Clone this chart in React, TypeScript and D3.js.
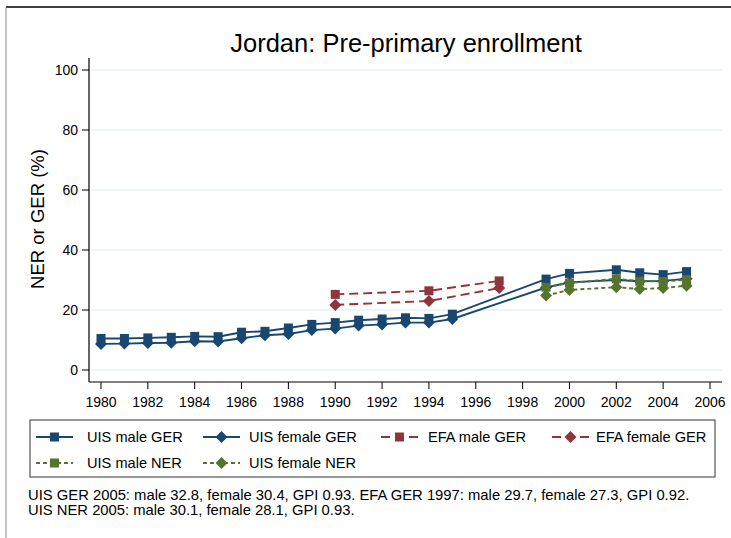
import React from 'react';
import * as d3 from 'd3';

// ---- data ----
const uisYears = [1980, 1981, 1982, 1983, 1984, 1985, 1986, 1987, 1988, 1989, 1990, 1991, 1992, 1993, 1994, 1995, 1999, 2000, 2002, 2003, 2004, 2005];
const uisMaleGER = [10.5, 10.5, 10.7, 10.9, 11.2, 11.1, 12.6, 12.9, 14.0, 15.2, 15.8, 16.6, 17.0, 17.4, 17.2, 18.6, 30.3, 32.2, 33.4, 32.4, 31.8, 32.8];
const uisFemaleGER = [8.7, 8.8, 9.0, 9.1, 9.6, 9.5, 10.6, 11.6, 12.0, 13.3, 13.8, 14.8, 15.2, 15.8, 15.8, 17.0, 27.5, 29.2, 30.0, 29.6, 29.7, 30.4];
const efaYears = [1990, 1994, 1997];
const efaMaleGER = [25.2, 26.4, 29.7];
const efaFemaleGER = [21.7, 23.0, 27.3];
const nerYears = [1999, 2000, 2002, 2003, 2004, 2005];
const uisMaleNER = [27.6, 29.0, 30.4, 29.6, 29.5, 30.1];
const uisFemaleNER = [24.8, 26.7, 27.6, 27.0, 27.3, 28.1];

const xTicks = d3.range(1980, 2007, 2);
const yTicks = [0, 20, 40, 60, 80, 100];

const navy = '#1a476f';
const maroon = '#90353b';
const green = '#55752f';

type Series = {
  label: string;
  years: number[];
  values: number[];
  color: string;
  dash: string | null;
  marker: 'square' | 'diamond';
};

const series: Series[] = [
  { label: 'UIS male GER', years: uisYears, values: uisMaleGER, color: navy, dash: null, marker: 'square' },
  { label: 'UIS female GER', years: uisYears, values: uisFemaleGER, color: navy, dash: null, marker: 'diamond' },
  { label: 'EFA male GER', years: efaYears, values: efaMaleGER, color: maroon, dash: '9 5', marker: 'square' },
  { label: 'EFA female GER', years: efaYears, values: efaFemaleGER, color: maroon, dash: '9 5', marker: 'diamond' },
  { label: 'UIS male NER', years: nerYears, values: uisMaleNER, color: green, dash: '4 3', marker: 'square' },
  { label: 'UIS female NER', years: nerYears, values: uisFemaleNER, color: green, dash: '4 3', marker: 'diamond' },
];

const notes = [
  'UIS GER 2005: male 32.8, female 30.4, GPI 0.93. EFA GER 1997: male 29.7, female 27.3, GPI 0.92.',
  'UIS NER 2005: male 30.1, female 28.1, GPI 0.93.',
];

const W = 731;
const H = 538;
const font = 'Arial, "Liberation Sans", Helvetica, sans-serif';

const Marker: React.FC<{ kind: 'square' | 'diamond'; cx: number; cy: number; color: string }> = ({ kind, cx, cy, color }) => {
  if (kind === 'square') {
    return <rect x={cx - 4.5} y={cy - 4.5} width={9} height={9} fill={color} />;
  }
  const r = 6;
  return <path d={`M${cx},${cy - r}L${cx + r},${cy}L${cx},${cy + r}L${cx - r},${cy}Z`} fill={color} />;
};

export default function App() {
  /* ---------- scales ---------- */
  const x = d3.scaleLinear().domain([1980, 2006]).range([101, 710]);
  const y = d3.scaleLinear().domain([0, 100]).range([370, 70]);
  const plot = { left: 89, right: 722, top: 58, bottom: 382 };

  const line = d3
    .line<[number, number]>()
    .x(d => x(d[0]))
    .y(d => y(d[1]));

  /* ---------- legend layout ---------- */
  const legendCols = [36, 203, 381, 552];
  const legendText = [87, 249, 428, 596];
  const legendRows = [437, 463];
  const keyLen = 37;

  return (
    <svg width={W} height={H} style={{ display: 'block', position: 'absolute', left: 0, top: 0, background: '#fff' }} fontFamily={font}>
      {/* outer frame */}
      <line x1={6} x2={W} y1={7} y2={7} stroke="#000" strokeWidth={1.5} />
      <line x1={6} x2={6} y1={7} y2={H} stroke="#888" strokeWidth={1} />

      {/* title */}
      <text x={406} y={52} textAnchor="middle" fontSize={25.5} fill="#000">
        Jordan: Pre-primary enrollment
      </text>

      {/* gridlines */}
      {yTicks.map(t => (
        <line key={`g${t}`} x1={plot.left} x2={plot.right} y1={y(t)} y2={y(t)} stroke="#eaf2f3" strokeWidth={1.5} />
      ))}

      {/* axes */}
      <line x1={plot.left} x2={plot.left} y1={plot.top} y2={plot.bottom} stroke="#000" strokeWidth={1.2} />
      <line x1={plot.left} x2={plot.right} y1={plot.bottom} y2={plot.bottom} stroke="#000" strokeWidth={1.2} />
      {yTicks.map(t => (
        <g key={`y${t}`}>
          <line x1={plot.left - 7} x2={plot.left} y1={y(t)} y2={y(t)} stroke="#000" strokeWidth={1} />
          <text x={78} y={y(t)} dy="0.35em" textAnchor="end" fontSize={14}>
            {t}
          </text>
        </g>
      ))}
      {xTicks.map(t => (
        <g key={`x${t}`}>
          <line x1={x(t)} x2={x(t)} y1={plot.bottom} y2={plot.bottom + 7} stroke="#000" strokeWidth={1} />
          <text x={x(t)} y={407} textAnchor="middle" fontSize={14}>
            {t}
          </text>
        </g>
      ))}
      <text transform={`translate(44,219) rotate(-90)`} textAnchor="middle" fontSize={18.5}>
        NER or GER (%)
      </text>

      {/* series */}
      {series.map(s => {
        const pts = s.years.map((yr, i) => [yr, s.values[i]] as [number, number]);
        return (
          <g key={s.label}>
            <path
              d={line(pts) ?? ''}
              fill="none"
              stroke={s.color}
              strokeWidth={1.9}
              strokeDasharray={s.dash ?? undefined}
            />
            {pts.map((p, i) => (
              <Marker key={i} kind={s.marker} cx={x(p[0])} cy={y(p[1])} color={s.color} />
            ))}
          </g>
        );
      })}

      {/* legend */}
      <rect x={30} y={420} width={685} height={57} fill="#fff" stroke="#333" strokeWidth={1} />
      {series.map((s, i) => {
        const lx = legendCols[i % 4];
        const ly = legendRows[Math.floor(i / 4)];
        return (
          <g key={`l${s.label}`}>
            <line x1={lx} x2={lx + keyLen} y1={ly} y2={ly} stroke={s.color} strokeWidth={1.9} strokeDasharray={s.dash ?? undefined} />
            <Marker kind={s.marker} cx={lx + keyLen / 2} cy={ly} color={s.color} />
            <text x={legendText[i % 4]} y={ly} dy="0.35em" fontSize={14.6}>
              {s.label}
            </text>
          </g>
        );
      })}

      {/* notes */}
      {notes.map((n, i) => (
        <text key={i} x={28} y={500 + i * 15} fontSize={14.8}>
          {n}
        </text>
      ))}
    </svg>
  );
}
